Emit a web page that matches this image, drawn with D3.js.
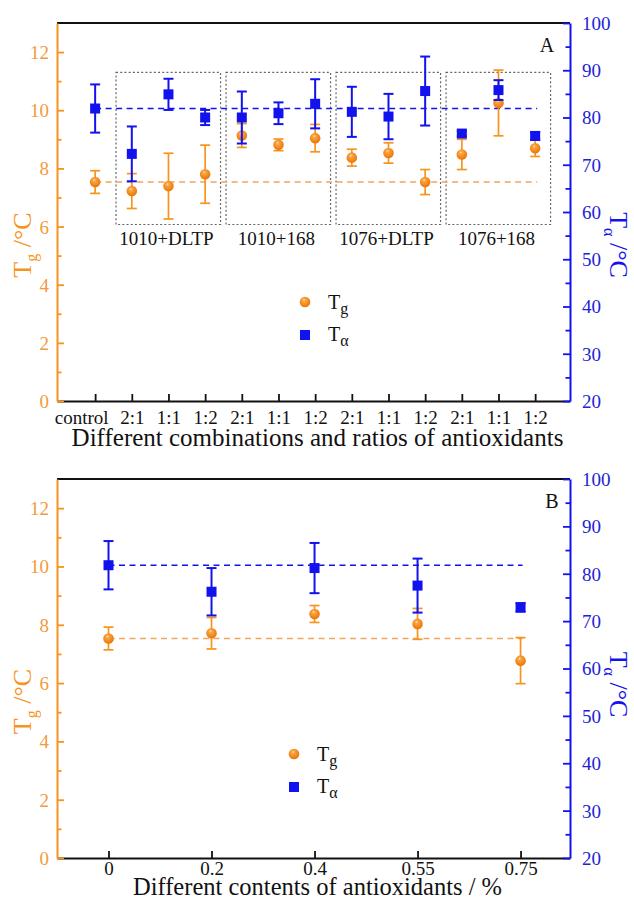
<!DOCTYPE html>
<html>
<head>
<meta charset="utf-8">
<script src="https://cdn.jsdelivr.net/npm/d3@7"></script>
<style>
  html, body { margin: 0; padding: 0; background: #fff; }
  svg { display: block; }
  text { font-family: "Liberation Serif", "Times New Roman", serif; }
</style>
</head>
<body>
<svg id="chart" width="634" height="899"></svg>
<script>
// ---- Panel A: combinations and ratios of antioxidants ----
const comboCategories = ["control", "2:1", "1:1", "1:2", "2:1", "1:1", "1:2", "2:1", "1:1", "1:2", "2:1", "1:1", "1:2"];
const comboGroups = ["1010+DLTP", "1010+168", "1076+DLTP", "1076+168"];
const comboGroupStart = [1, 4, 7, 10];
const comboGroupEnd = [3, 6, 9, 12];
const comboTg = [7.53, 7.22, 7.39, 7.80, 9.13, 8.81, 9.04, 8.37, 8.53, 7.53, 8.48, 10.25, 8.69];
const comboTgErr = [0.39, 0.60, 1.13, 1.00, 0.41, 0.20, 0.47, 0.29, 0.35, 0.43, 0.52, 1.13, 0.28];
const comboTa = [81.9, 72.3, 84.9, 80.0, 80.0, 80.9, 82.9, 81.2, 80.2, 85.6, 76.6, 85.8, 76.1];
const comboTaErr = [5.1, 5.8, 3.3, 1.6, 5.5, 2.3, 5.2, 5.3, 4.8, 7.3, 0.6, 2.1, 0.8];

// ---- Panel B: contents of antioxidants ----
const contentCategories = ["0", "0.2", "0.4", "0.55", "0.75"];
const contentTg = [7.53, 7.71, 8.37, 8.03, 6.77];
const contentTgErr = [0.39, 0.54, 0.29, 0.53, 0.79];
const contentTa = [81.8, 76.2, 81.2, 77.5, 72.9];
const contentTaErr = [5.1, 5.0, 5.3, 5.7, 0.9];

// ---- Axis ticks ----
const tgTicks = [0, 2, 4, 6, 8, 10, 12];
const tgMinorTicks = [1, 3, 5, 7, 9, 11];
const taTicks = [20, 30, 40, 50, 60, 70, 80, 90, 100];
const taMinorTicks = [25, 35, 45, 55, 65, 75, 85, 95];

const ORANGE = "#F7941D";
const ORANGE_TEXT = "#F39A40";
const ORANGE_DASH = "#F2A560";
const BLUE = "#1212EE";
const BLUE_TEXT = "#2323D6";

const svg = d3.select("#chart");
svg.append("rect").attr("width", 634).attr("height", 899).attr("fill", "#fff");

const defs = svg.append("defs");
const grad = defs.append("radialGradient").attr("id", "ball")
  .attr("cx", "45%").attr("cy", "40%").attr("r", "58%").attr("fx", "40%").attr("fy", "30%");
grad.append("stop").attr("offset", "0%").attr("stop-color", "#FFE6C2");
grad.append("stop").attr("offset", "22%").attr("stop-color", "#F9A745");
grad.append("stop").attr("offset", "100%").attr("stop-color", "#EC7608");

function drawPanel(opt) {
  const left = 57, right = 570;
  const g = svg.append("g");
  const x = d3.scaleLinear().domain(opt.xDomain).range([left, right]);
  const yL = d3.scaleLinear().domain([0, 13]).range([opt.bottom, opt.top]);
  const yR = d3.scaleLinear().domain([20, 100]).range([opt.bottom, opt.top]);
  const idx = d3.range(opt.categories.length);

  // frame: top border in black
  g.append("line").attr("x1", left).attr("x2", right).attr("y1", opt.top).attr("y2", opt.top)
    .attr("stroke", "#111").attr("stroke-width", 2);

  // dotted group boxes with their labels
  if (opt.groups) {
    opt.groups.forEach((name, k) => {
      const x0 = x(opt.groupStart[k] - 0.43), x1 = x(opt.groupEnd[k] + 0.42);
      g.append("rect").attr("x", x0).attr("y", yL(11.3))
        .attr("width", x1 - x0).attr("height", yL(6.07) - yL(11.3))
        .attr("fill", "none").attr("stroke", "#666").attr("stroke-width", 1.2)
        .attr("stroke-dasharray", "2,2.2");
      g.append("text").attr("x", x((opt.groupStart[k] + opt.groupEnd[k]) / 2) - 2)
        .attr("y", yL(6.07) + 20).attr("text-anchor", "middle")
        .attr("font-size", 19).attr("fill", "#111").text(name);
    });
  }

  // reference dashed lines at the untreated value
  const xEnd = x(idx.length - 1) + 2;
  g.append("line").attr("x1", x(0)).attr("x2", xEnd)
    .attr("y1", yL(opt.tg[0])).attr("y2", yL(opt.tg[0]))
    .attr("stroke", ORANGE_DASH).attr("stroke-width", 1.5).attr("stroke-dasharray", "6,4.5");
  g.append("line").attr("x1", x(0)).attr("x2", xEnd)
    .attr("y1", yR(opt.ta[0])).attr("y2", yR(opt.ta[0]))
    .attr("stroke", BLUE).attr("stroke-width", 1.5).attr("stroke-dasharray", "6,4.5");

  // Tg error bars and markers
  const tgG = g.append("g");
  idx.forEach(i => {
    const cx = x(i), hi = yL(opt.tg[i] + opt.tgErr[i]), lo = yL(opt.tg[i] - opt.tgErr[i]);
    tgG.append("line").attr("x1", cx).attr("x2", cx).attr("y1", hi).attr("y2", lo)
      .attr("stroke", ORANGE).attr("stroke-width", 1.7);
    [hi, lo].forEach(yy => tgG.append("line").attr("x1", cx - 5).attr("x2", cx + 5)
      .attr("y1", yy).attr("y2", yy).attr("stroke", ORANGE).attr("stroke-width", 1.7));
    tgG.append("circle").attr("cx", cx).attr("cy", yL(opt.tg[i])).attr("r", 5.3)
      .attr("fill", "url(#ball)");
  });

  // Tα error bars and markers
  const taG = g.append("g");
  idx.forEach(i => {
    const cx = x(i), hi = yR(opt.ta[i] + opt.taErr[i]), lo = yR(opt.ta[i] - opt.taErr[i]);
    taG.append("line").attr("x1", cx).attr("x2", cx).attr("y1", hi).attr("y2", lo)
      .attr("stroke", BLUE).attr("stroke-width", 2);
    [hi, lo].forEach(yy => taG.append("line").attr("x1", cx - 5).attr("x2", cx + 5)
      .attr("y1", yy).attr("y2", yy).attr("stroke", BLUE).attr("stroke-width", 2));
    taG.append("rect").attr("x", cx - 5).attr("y", yR(opt.ta[i]) - 5)
      .attr("width", 10).attr("height", 10).attr("fill", BLUE);
  });

  // bottom axis (ticks point inward)
  const xAxis = g.append("g").attr("transform", `translate(0,${opt.bottom})`)
    .call(d3.axisBottom(x).tickValues(idx).tickSize(-7).tickSizeOuter(0)
      .tickFormat(i => opt.categories[i]));
  xAxis.select(".domain").attr("stroke", "#111").attr("stroke-width", 2);
  xAxis.selectAll(".tick line").attr("stroke", "#111").attr("stroke-width", 1.8);
  xAxis.selectAll(".tick text").attr("font-family", "Liberation Serif").attr("font-size", 19)
    .attr("fill", "#111").attr("y", opt.tickLabelOffset).attr("dy", 0)
    .attr("dx", (d, i) => (opt.firstLabelShift && i === 0 ? opt.firstLabelShift : 0));

  // left axis (Tg)
  const lAxis = g.append("g").attr("transform", `translate(${left},0)`);
  lAxis.call(d3.axisLeft(yL).tickValues(tgTicks).tickSize(-7).tickSizeOuter(0).tickPadding(8));
  const lMinor = g.append("g").attr("transform", `translate(${left},0)`)
    .call(d3.axisLeft(yL).tickValues(tgMinorTicks).tickSize(-4.5).tickSizeOuter(0).tickFormat(""));
  lMinor.select(".domain").remove();
  [lAxis, lMinor].forEach(a => a.selectAll(".tick line").attr("stroke", ORANGE).attr("stroke-width", 1.8));
  lAxis.select(".domain").attr("stroke", ORANGE).attr("stroke-width", 2);
  lAxis.selectAll(".tick text").attr("font-family", "Liberation Serif").attr("font-size", 19)
    .attr("fill", ORANGE_TEXT).attr("dy", "0.34em");

  // right axis (Tα)
  const rAxis = g.append("g").attr("transform", `translate(${right},0)`);
  rAxis.call(d3.axisRight(yR).tickValues(taTicks).tickSize(-7).tickSizeOuter(0).tickPadding(12));
  const rMinor = g.append("g").attr("transform", `translate(${right},0)`)
    .call(d3.axisRight(yR).tickValues(taMinorTicks).tickSize(-4.5).tickSizeOuter(0).tickFormat(""));
  rMinor.select(".domain").remove();
  [rAxis, rMinor].forEach(a => a.selectAll(".tick line").attr("stroke", BLUE).attr("stroke-width", 1.8));
  rAxis.select(".domain").attr("stroke", BLUE).attr("stroke-width", 2);
  rAxis.selectAll(".tick text").attr("font-family", "Liberation Serif").attr("font-size", 19)
    .attr("fill", BLUE_TEXT).attr("dy", "0.34em");

  // axis titles
  const midY = (opt.top + opt.bottom) / 2;
  const lt = g.append("text").attr("transform", `translate(31,${midY + opt.leftTitleShift}) rotate(-90)`)
    .attr("text-anchor", "middle").attr("font-size", 26).attr("fill", ORANGE);
  lt.append("tspan").text("T");
  lt.append("tspan").attr("font-size", 16).attr("dy", 6).text("g");
  lt.append("tspan").attr("dy", -6).text(" /°C");

  const rt = g.append("text").attr("transform", `translate(610,${midY + opt.rightTitleShift}) rotate(90)`)
    .attr("text-anchor", "middle").attr("font-size", 26).attr("fill", BLUE);
  rt.append("tspan").text("T");
  rt.append("tspan").attr("font-size", 16).attr("dy", 6).text("α");
  rt.append("tspan").attr("dy", -6).text(" /°C");

  g.append("text").attr("x", (left + right) / 2 + 4).attr("y", opt.titleY)
    .attr("text-anchor", "middle").attr("font-size", opt.titleSize).attr("fill", "#111").text(opt.title);

  // panel letter
  g.append("text").attr("x", opt.letterX).attr("y", opt.top + 29).attr("text-anchor", "middle")
    .attr("font-size", 20).attr("fill", "#111").text(opt.letter);

  // legend
  const lg = g.append("g").attr("transform", `translate(${opt.legendX},${opt.legendY})`);
  lg.append("circle").attr("cx", 0).attr("cy", 0).attr("r", 5.3).attr("fill", "url(#ball)");
  lg.append("rect").attr("x", -5).attr("y", 28).attr("width", 10).attr("height", 10).attr("fill", BLUE);
  const t1 = lg.append("text").attr("x", 23).attr("y", 7).attr("font-size", 20).attr("fill", "#111");
  t1.append("tspan").text("T");
  t1.append("tspan").attr("font-size", 16).attr("dy", 5).text("g");
  const t2 = lg.append("text").attr("x", 23).attr("y", 39).attr("font-size", 20).attr("fill", "#111");
  t2.append("tspan").text("T");
  t2.append("tspan").attr("font-size", 16).attr("dy", 5).text("α");
}

drawPanel({
  categories: comboCategories,
  groups: comboGroups, groupStart: comboGroupStart, groupEnd: comboGroupEnd,
  tg: comboTg, tgErr: comboTgErr, ta: comboTa, taErr: comboTaErr,
  xDomain: [-1.04, 12.95], top: 23, bottom: 401,
  tickLabelOffset: 23, firstLabelShift: -14,
  title: "Different combinations and ratios of antioxidants", titleY: 446, titleSize: 25,
  letter: "A", letterX: 547,
  legendX: 305, legendY: 302,
  leftTitleShift: 33, rightTitleShift: 33
});

drawPanel({
  categories: contentCategories,
  tg: contentTg, tgErr: contentTgErr, ta: contentTa, taErr: contentTaErr,
  xDomain: [-0.5, 4.48], top: 479, bottom: 858,
  tickLabelOffset: 17,
  title: "Different contents of antioxidants / %", titleY: 895, titleSize: 24.5,
  letter: "B", letterX: 552,
  legendX: 294, legendY: 754,
  leftTitleShift: 33, rightTitleShift: 16
});
</script>
</body>
</html>
